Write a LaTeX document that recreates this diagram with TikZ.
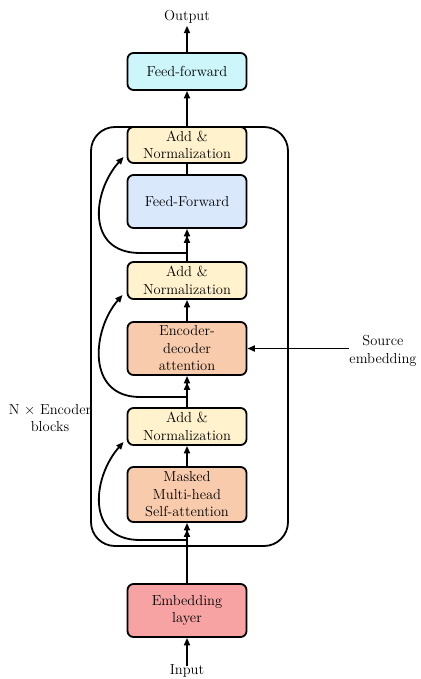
\documentclass[tikz,border=0pt]{standalone}
\usetikzlibrary{arrows.meta,calc}

\definecolor{cyanbox}{HTML}{CCF6FA}
\definecolor{normbox}{HTML}{FFF2CC}
\definecolor{ffbox}{HTML}{DAE8FC}
\definecolor{attbox}{HTML}{F8CBAD}
\definecolor{embbox}{HTML}{F7A3A3}

\tikzset{
  blk/.style={draw=black, line width=1.8pt, rounded corners=6pt,
    minimum width=119pt, align=center, inner sep=1pt,
    font=\fontsize{14.5}{17.5}\selectfont},
  lbl/.style={align=center, inner sep=0pt, font=\fontsize{14.5}{17.5}\selectfont},
  tip/.tip={Triangle[length=7.5pt,width=6pt]},
  arr/.style={line width=1.8pt, -{tip}},
  darr/.style={line width=1.8pt, -{tip[sep=-1pt]tip}},
  skip/.style={line width=1.8pt, -{tip}},
}

\begin{document}
\begin{tikzpicture}[x=1pt,y=-1pt]
\useasboundingbox (0,0) rectangle (420,679);

% repeated decoder block frame
\draw[line width=1.8pt, rounded corners=24pt] (91,127) rectangle (288,546);

% layer boxes
\node[blk, fill=cyanbox, minimum height=37pt] (ffo) at (187,71.5) {Feed-forward};
\node[blk, fill=normbox, minimum height=36pt] (an1) at (187,145) {Add \&\\Normalization};
\node[blk, fill=ffbox,   minimum height=53pt] (ff)  at (187,201.5) {Feed-Forward};
\node[blk, fill=normbox, minimum height=37pt] (an2) at (187,280.5) {Add \&\\Normalization};
\node[blk, fill=attbox,  minimum height=53pt] (ed)  at (187,348.5) {Encoder-\\decoder\\attention};
\node[blk, fill=normbox, minimum height=37pt] (an3) at (187,426.5) {Add \&\\Normalization};
\node[blk, fill=attbox,  minimum height=55pt] (mm)  at (187,494.5) {Masked\\Multi-head\\Self-attention};
\node[blk, fill=embbox,  minimum height=53pt] (emb) at (187,610.5) {Embedding\\layer};

% free labels
\node[lbl] (out) at (187,17) {Output};
\node[lbl] (inp) at (187,671) {Input};
\node[lbl] (src) at (383,351) {Source\\embedding};
\node[lbl] (nx)  at (50,418) {N $\times$ Encoder\\blocks};

% residual branch points
\coordinate (j1) at (187,540);
\coordinate (j2) at (187,397);
\coordinate (j3) at (187,253);

% main data path
\draw[arr]  ([yshift=-2pt]inp.north) -- (emb.south);
\draw[darr] (emb.north) -- (mm.south);
\draw[arr]  (mm.north)  -- (an3.south);
\draw[darr] (an3.north) -- (ed.south);
\draw[arr]  (ed.north)  -- (an2.south);
\draw[darr] (an2.north) -- (ff.south);
\draw[line width=1.8pt] (ff.north) -- (an1.south);
\draw[arr]  (an1.north) -- (ffo.south);
\draw[arr]  (ffo.north) -- ([yshift=-2pt]out.south);

% cross attention input
\draw[arr] (src.west |- ed.east) -- (ed.east);

% residual connections
\draw[skip] (j1) -- (140,540) .. controls (86,540) and (92,478) .. ([shift={(-3,-4)}]an3.south west);
\draw[skip] (j2) -- (140,397) .. controls (86,397) and (92,330) .. ([shift={(-4,-5)}]an2.south west);
\draw[skip] (j3) -- (140,253) .. controls (86,253) and (92,192) .. ([shift={(-3,-7)}]an1.south west);
\end{tikzpicture}
\end{document}
